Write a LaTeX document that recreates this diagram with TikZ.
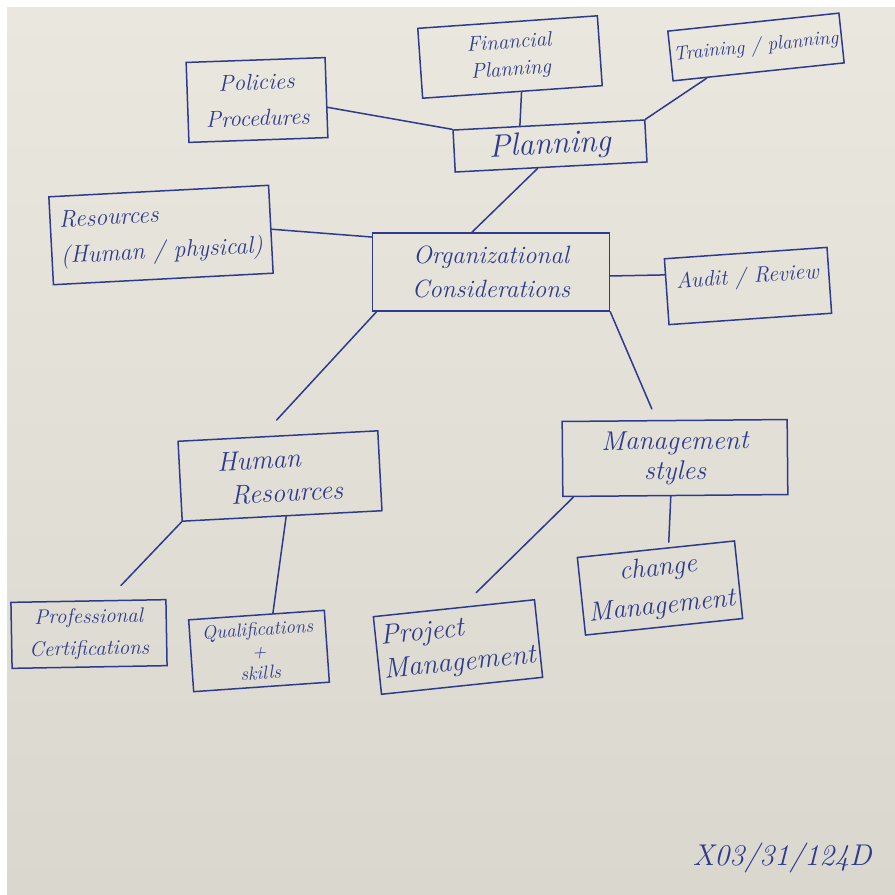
\documentclass[tikz,border=0pt]{standalone}
\usetikzlibrary{calc}
\definecolor{ink}{HTML}{2E3A8C}
\definecolor{paperhi}{HTML}{EAE7DF}
\definecolor{paperlo}{HTML}{DAD7CF}
\newcommand{\handsz}[2]{\fontsize{#1}{#2}\selectfont\itshape}
\tikzset{
  box/.style={draw=ink, line width=1.5pt, text=ink, align=center, inner sep=0pt},
  wire/.style={draw=ink, line width=1.5pt, line cap=round},
}
\begin{document}
\begin{tikzpicture}[x=1pt, y=-1pt]
  \useasboundingbox (0,0) rectangle (895,895);
  % sheet of paper
  \fill[white] (0,0) rectangle (895,895);
  \shade[top color=paperhi, bottom color=paperlo] (7,7) rectangle (895,895);

  % boxes
  \node[box, minimum width=139pt, minimum height=80pt, rotate=2, font=\handsz{23}{36}] (pol) at (257,100) {Policies\\Procedures};
  \node[box, minimum width=180pt, minimum height=70pt, rotate=4, font=\handsz{21}{27}] (fin) at (510,57) {Financial\\Planning};
  \node[box, minimum width=172pt, minimum height=50pt, rotate=6, font=\handsz{19.5}{22}] (trn) at (756,47) {Training / planning};
  \node[box, minimum width=192pt, minimum height=42pt, rotate=3, font=\handsz{32}{34}] (plan) at (550,146) {Planning};
  \node[box, minimum width=220pt, minimum height=88pt, rotate=3, align=left, font=\handsz{24}{36}] (res) at (161,235) {Resources\\(Human / physical)};
  \node[box, minimum width=237pt, minimum height=78pt, font=\handsz{25}{34}] (org) at (491,272) {Organizational\\Considerations};
  \node[box, minimum width=163pt, minimum height=66pt, rotate=4, font=\handsz{22}{26}] (aud) at (748,286) {\raisebox{22pt}{Audit / Review}};
  \node[box, minimum width=200pt, minimum height=80pt, rotate=3, align=left, font=\handsz{27}{34}] (hr) at (280,476) {Human\\\hspace*{12pt}Resources};
  \node[box, minimum width=225pt, minimum height=75pt, rotate=0.5, font=\handsz{27}{30}] (mgt) at (675,458) {Management\\styles};
  \node[box, minimum width=155pt, minimum height=66pt, rotate=1, font=\handsz{21}{32}] (prof) at (89,634) {Professional\\Certifications};
  \node[box, minimum width=136pt, minimum height=72pt, rotate=4, font=\handsz{19}{22}] (qual) at (259,651) {Qualifications\\+\\skills};
  \node[box, minimum width=162pt, minimum height=78pt, rotate=6, align=left, font=\handsz{28}{34}] (proj) at (458,647) {Project\\Management};
  \node[box, minimum width=158pt, minimum height=78pt, rotate=6, font=\handsz{27}{38}] (chg) at (660,588) {change\\Management};

  % date written in the corner
  \node[text=ink, font=\handsz{30}{32}] (date) at (782,858) {X03/31/124D};

  % connectors
  \draw[wire] ($(pol.north east)!0.62!(pol.south east)$) -- (plan.north west);
  \draw[wire] ($(fin.south west)!0.55!(fin.south east)$) -- ($(plan.north west)!0.35!(plan.north east)$);
  \draw[wire] ($(trn.south west)!0.2!(trn.south east)$) -- (plan.north east);
  \draw[wire] ($(plan.south west)!0.43!(plan.south east)$) -- ($(org.north west)!0.42!(org.north east)$);
  \draw[wire] (res.east) -- ($(org.north west)!0.06!(org.south west)$);
  \draw[wire] ($(org.north east)!0.55!(org.south east)$) -- ($(aud.north west)!0.25!(aud.south west)$);
  \draw[wire, shorten >=22pt] ($(org.south west)!0.02!(org.south east)$) -- ($(hr.north west)!0.42!(hr.north east)$);
  \draw[wire, shorten >=12pt] (org.south east) -- ($(mgt.north west)!0.42!(mgt.north east)$);
  \draw[wire, shorten >=20pt] (hr.south west) -- ($(prof.north west)!0.62!(prof.north east)$);
  \draw[wire] ($(hr.south west)!0.52!(hr.south east)$) -- ($(qual.north west)!0.62!(qual.north east)$);
  \draw[wire, shorten >=20pt] ($(mgt.south west)!0.05!(mgt.south east)$) -- ($(proj.north west)!0.55!(proj.north east)$);
  \draw[wire, shorten >=5pt] ($(mgt.south west)!0.48!(mgt.south east)$) -- ($(chg.north west)!0.58!(chg.north east)$);
\end{tikzpicture}
\end{document}
